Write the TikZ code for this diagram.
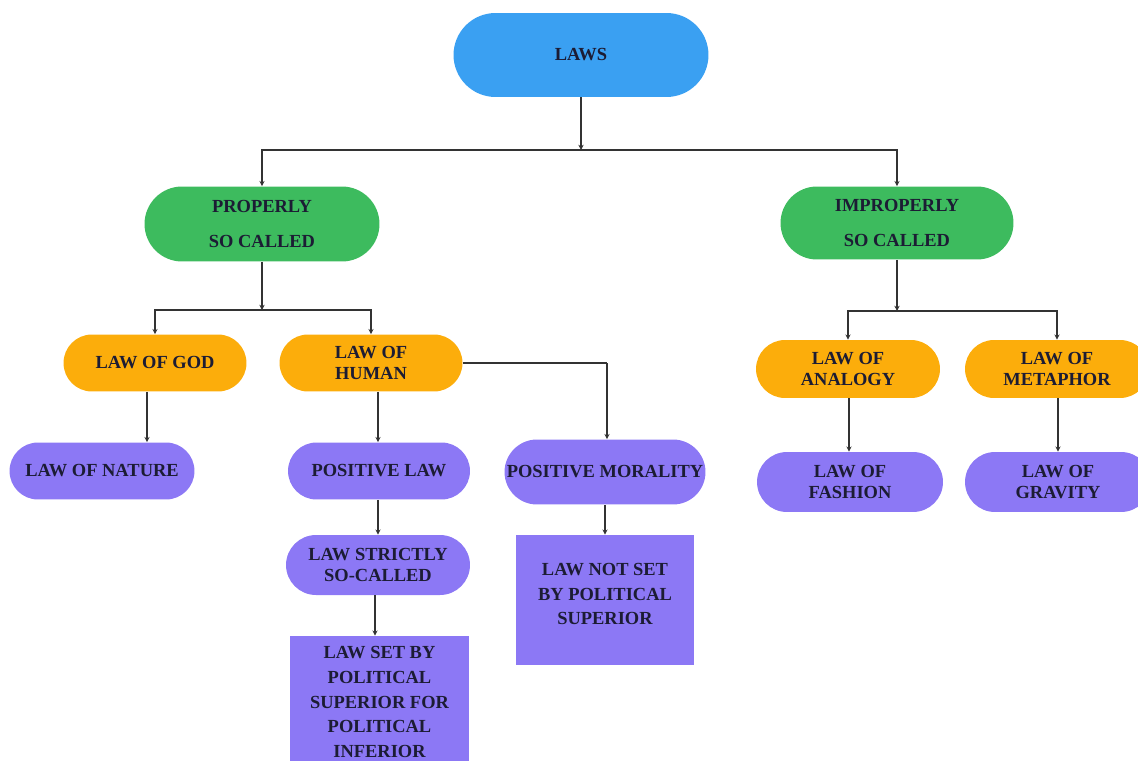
\documentclass[tikz,border=0pt]{standalone}
\usepackage{fontspec}
\newfontfamily\tnr{Liberation Serif}
\usetikzlibrary{shapes.misc,arrows.meta}
\definecolor{cblue}{RGB}{58,160,242}
\definecolor{cgreen}{RGB}{61,187,94}
\definecolor{corange}{RGB}{252,173,11}
\definecolor{cpurple}{RGB}{140,120,245}
\definecolor{ctext}{RGB}{28,28,52}
\tikzset{
  pill/.style={rounded rectangle, draw=none, align=center, text=ctext,
    font=\tnr\bfseries\fontsize{10.5}{12}\selectfont, inner sep=0pt},
  boxnode/.style={rectangle, draw=none, align=center, text=ctext,
    font=\tnr\bfseries\fontsize{10.5}{14}\selectfont, inner sep=0pt},
  boxtext/.style={align=center, text=ctext, inner sep=0pt,
    font=\tnr\bfseries\fontsize{10.5}{14}\selectfont},
  conn/.style={draw=black!80, line width=0.6pt, -{Stealth[length=3pt,width=3pt]}},
  plain/.style={draw=black!80, line width=0.6pt}
}
\begin{document}
\begin{tikzpicture}[x=0.02cm,y=-0.02cm]
\useasboundingbox (0,0) rectangle (1138,760);
\begin{scope}
\clip (0,0) rectangle (1138,760);
% nodes
\node[pill, fill=cblue, minimum width=5.1cm, minimum height=1.68cm] (laws) at (581,55) {LAWS};
\node[pill, fill=cgreen, minimum width=4.7cm, minimum height=1.5cm] (proper) at (262,224) {PROPERLY\\[8pt]SO CALLED};
\node[pill, fill=cgreen, minimum width=4.66cm, minimum height=1.46cm] (improper) at (897,223) {IMPROPERLY\\[8pt]SO CALLED};
\node[pill, fill=corange, minimum width=3.66cm, minimum height=1.14cm] (god) at (155,363) {LAW OF GOD};
\node[pill, fill=corange, minimum width=3.66cm, minimum height=1.14cm] (human) at (371,363) {LAW OF\\HUMAN};
\node[pill, fill=corange, minimum width=3.68cm, minimum height=1.16cm] (analogy) at (848,369) {LAW OF\\ANALOGY};
\node[pill, fill=corange, minimum width=3.68cm, minimum height=1.16cm] (metaphor) at (1057,369) {LAW OF\\METAPHOR};
\node[pill, fill=cpurple, minimum width=3.7cm, minimum height=1.14cm] (nature) at (102,471) {LAW OF NATURE};
\node[pill, fill=cpurple, minimum width=3.64cm, minimum height=1.14cm] (poslaw) at (379,471) {POSITIVE LAW};
\node[pill, fill=cpurple, minimum width=4.02cm, minimum height=1.3cm] (posmor) at (605,472) {POSITIVE MORALITY};
\node[pill, fill=cpurple, minimum width=3.72cm, minimum height=1.2cm] (fashion) at (850,482) {LAW OF\\FASHION};
\node[pill, fill=cpurple, minimum width=3.72cm, minimum height=1.2cm] (gravity) at (1058,482) {LAW OF\\GRAVITY};
\node[pill, fill=cpurple, minimum width=3.68cm, minimum height=1.2cm] (strict) at (378,565) {LAW STRICTLY\\SO-CALLED};
\node[boxnode, fill=cpurple, minimum width=3.58cm, minimum height=2.8cm] (setby) at (379.5,706) {};
\node[boxtext] (setbytext) at (379.5,702) {LAW SET BY\\POLITICAL\\SUPERIOR FOR\\POLITICAL\\INFERIOR};
\node[boxnode, fill=cpurple, minimum width=3.56cm, minimum height=2.6cm] (notset) at (605,600) {};
\node[boxtext] (notsettext) at (605,594) {LAW NOT SET\\BY POLITICAL\\SUPERIOR};
% junctions
\coordinate (j1) at (581,150);
\coordinate (j2) at (262,310);
\coordinate (j3) at (897,311);
\coordinate (j4) at (607,363);
% connectors
\draw[conn] (laws.south) -- (j1);
\draw[conn] (j1) -| (proper.north);
\draw[conn] (j1) -| (improper.north);
\draw[conn] (proper.south) -- (j2);
\draw[conn] (j2) -| (god.north);
\draw[conn] (j2) -| (human.north);
\draw[conn] (improper.south) -- (j3);
\draw[conn] (j3) -| (analogy.north);
\draw[conn] (j3) -| (metaphor.north);
\draw[plain] (human.east) -- (j4);
\draw[conn] (j4) -- (posmor.north -| j4);
\draw[conn] (god.south -| 147,0) -- (nature.north -| 147,0);
\draw[conn] (human.south -| 378,0) -- (poslaw.north -| 378,0);
\draw[conn] (poslaw.south -| 378,0) -- (strict.north -| 378,0);
\draw[conn] (strict.south -| 375,0) -- (setby.north -| 375,0);
\draw[conn] (posmor.south) -- (notset.north -| posmor.south);
\draw[conn] (analogy.south -| 849,0) -- (fashion.north -| 849,0);
\draw[conn] (metaphor.south -| 1058,0) -- (gravity.north -| 1058,0);
\end{scope}
\end{tikzpicture}
\end{document}
